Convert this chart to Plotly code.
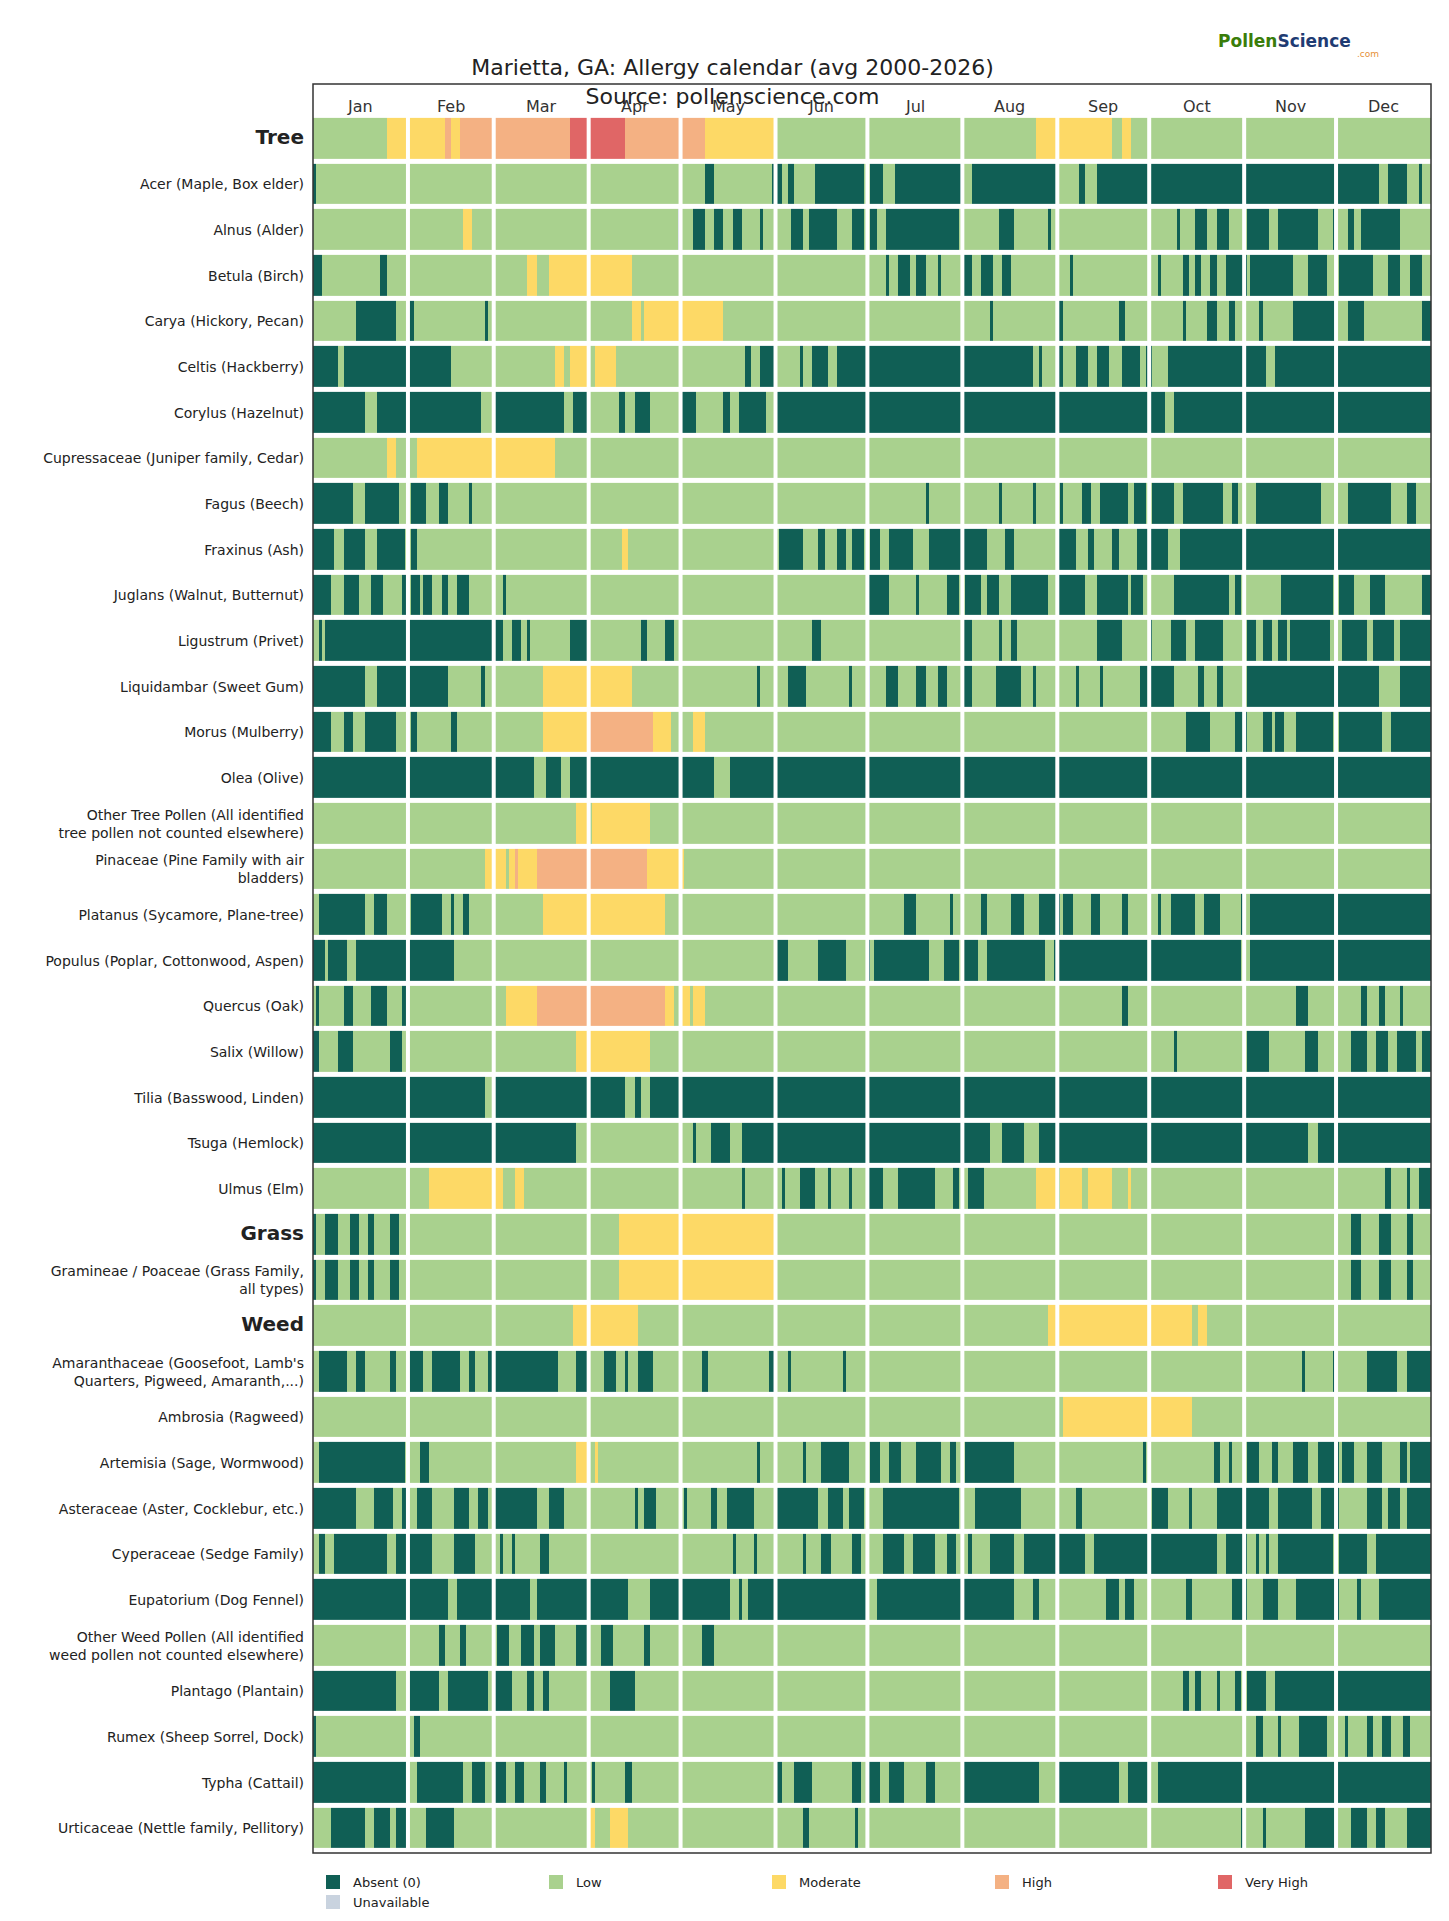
import plotly.graph_objects as go

# category codes: 0 absent, 1 low, 2 moderate, 3 high, 4 very high, 5 unavailable
levels = ['Absent (0)', 'Low', 'Moderate', 'High', 'Very High', 'Unavailable']
level_colors = ['#105f55', '#a9d18e', '#fdd966', '#f4b183', '#e06666', '#c9d3df']

months = ['Jan', 'Feb', 'Mar', 'Apr', 'May', 'Jun', 'Jul', 'Aug', 'Sep', 'Oct', 'Nov', 'Dec']
month_days = [31, 28, 31, 30, 31, 30, 31, 31, 30, 31, 30, 31]

row_labels = [
    '<b><span style="font-size:20px">Tree</span></b>',
    'Acer (Maple, Box elder)', 'Alnus (Alder)', 'Betula (Birch)', 'Carya (Hickory, Pecan)',
    'Celtis (Hackberry)', 'Corylus (Hazelnut)', 'Cupressaceae (Juniper family, Cedar)',
    'Fagus (Beech)', 'Fraxinus (Ash)', 'Juglans (Walnut, Butternut)', 'Ligustrum (Privet)',
    'Liquidambar (Sweet Gum)', 'Morus (Mulberry)', 'Olea (Olive)',
    'Other Tree Pollen (All identified<br>tree pollen not counted elsewhere)',
    'Pinaceae (Pine Family with air<br>bladders)', 'Platanus (Sycamore, Plane-tree)',
    'Populus (Poplar, Cottonwood, Aspen)', 'Quercus (Oak)', 'Salix (Willow)',
    'Tilia (Basswood, Linden)', 'Tsuga (Hemlock)', 'Ulmus (Elm)',
    '<b><span style="font-size:20px">Grass</span></b>',
    'Gramineae / Poaceae (Grass Family,<br>all types)',
    '<b><span style="font-size:20px">Weed</span></b>',
    "Amaranthaceae (Goosefoot, Lamb's<br>Quarters, Pigweed, Amaranth,...)",
    'Ambrosia (Ragweed)', 'Artemisia (Sage, Wormwood)', 'Asteraceae (Aster, Cocklebur, etc.)',
    'Cyperaceae (Sedge Family)', 'Eupatorium (Dog Fennel)',
    'Other Weed Pollen (All identified<br>weed pollen not counted elsewhere)',
    'Plantago (Plantain)', 'Rumex (Sheep Sorrel, Dock)', 'Typha (Cattail)',
    'Urticaceae (Nettle family, Pellitory)',
]

# run lengths per row: (level, last day of the run)
tree = [(1,24),(2,43),(3,45),(2,48),(3,84),(4,102),(3,128),(2,151),(1,236),(2,261),(1,264),(2,267),(1,365)]
acer = [(0,1),(1,128),(0,131),(1,150),(0,153),(1,155),(0,157),(1,164),(0,180),(1,182),(0,186),(1,190),(0,212),(1,215),(0,243),(1,250),(0,252),(1,256),(0,348),(1,351),(0,357),(1,361),(0,362),(1,365)]
alnus = [(1,49),(2,52),(1,119),(5,120),(1,124),(0,128),(1,131),(0,134),(1,137),(0,140),(1,146),(0,147),(1,156),(0,160),(1,162),(0,171),(1,176),(0,180),(1,182),(0,184),(1,187),(0,211),(1,224),(0,229),(1,240),(0,241),(1,282),(0,283),(1,288),(0,292),(1,295),(0,299),(1,305),(0,312),(1,315),(0,328),(1,333),(0,334),(1,338),(0,340),(1,342),(0,355),(1,365)]
betula = [(0,3),(1,22),(0,24),(1,70),(2,73),(1,77),(2,104),(1,187),(0,188),(1,191),(0,195),(1,197),(0,200),(1,204),(0,205),(1,212),(0,215),(1,218),(0,222),(1,225),(0,228),(1,247),(0,248),(1,276),(0,277),(1,284),(0,286),(1,288),(0,290),(1,293),(0,295),(1,298),(0,305),(1,306),(0,320),(1,325),(0,331),(1,335),(0,346),(1,351),(0,355),(1,358),(0,362),(1,365)]
carya = [(1,14),(0,27),(1,31),(0,33),(1,56),(0,57),(1,104),(2,107),(1,108),(2,134),(1,221),(0,222),(1,243),(0,245),(1,263),(0,265),(1,284),(0,285),(1,292),(0,295),(1,299),(0,301),(1,309),(0,310),(1,320),(0,334),(1,338),(0,343),(1,362),(0,365)]
celtis = [(0,8),(1,10),(0,45),(1,79),(2,82),(1,84),(2,90),(1,92),(2,99),(1,141),(0,143),(1,146),(0,151),(1,159),(0,160),(1,163),(0,168),(1,171),(0,235),(1,237),(0,238),(1,243),(0,245),(1,249),(0,253),(1,256),(0,260),(1,264),(0,270),(1,272),(0,274),(1,279),(0,311),(1,314),(0,365)]
corylus = [(0,17),(1,21),(0,55),(1,59),(0,82),(1,85),(0,90),(1,100),(0,102),(1,105),(0,110),(1,120),(0,125),(1,134),(0,136),(1,139),(0,148),(1,151),(0,278),(1,281),(0,365)]
cupress = [(1,24),(2,27),(1,34),(2,79),(1,365)]
fagus = [(0,13),(1,17),(0,28),(1,32),(0,37),(1,41),(0,44),(1,51),(0,52),(1,200),(0,201),(1,224),(0,225),(1,235),(0,236),(1,244),(0,245),(1,251),(0,254),(1,257),(0,266),(1,268),(0,272),(1,274),(0,281),(1,284),(0,297),(1,300),(0,302),(1,308),(0,329),(1,338),(0,352),(1,357),(0,360),(1,365)]
fraxinus = [(0,7),(1,10),(0,17),(1,21),(0,30),(1,32),(0,34),(1,101),(2,103),(1,152),(0,160),(1,165),(0,167),(1,171),(0,174),(1,176),(0,180),(1,182),(0,185),(1,188),(0,196),(1,201),(0,220),(1,226),(0,229),(1,243),(0,249),(1,253),(0,255),(1,261),(0,263),(1,269),(0,279),(1,283),(0,365)]
juglans = [(0,6),(1,10),(0,15),(1,19),(0,23),(1,29),(0,31),(1,32),(0,35),(1,36),(0,39),(1,42),(0,44),(1,47),(0,51),(1,62),(0,63),(1,181),(0,188),(1,197),(0,198),(1,207),(0,211),(1,213),(0,218),(1,220),(0,224),(1,228),(0,240),(1,243),(0,252),(1,256),(0,266),(1,267),(0,271),(1,281),(0,299),(1,301),(0,303),(1,316),(0,333),(1,335),(0,340),(1,345),(0,350),(1,362),(0,365)]
ligustrum = [(1,2),(0,3),(1,4),(0,62),(1,65),(0,68),(1,70),(0,71),(1,84),(0,90),(1,107),(0,109),(1,115),(0,118),(1,163),(0,166),(1,212),(0,215),(1,224),(0,225),(1,228),(0,230),(1,256),(0,264),(1,273),(0,274),(1,280),(0,285),(1,288),(0,297),(1,305),(0,308),(1,310),(0,313),(1,315),(0,318),(1,319),(0,332),(1,336),(0,344),(1,346),(0,353),(1,355),(0,365)]
liquidambar = [(0,17),(1,21),(0,44),(1,55),(0,56),(1,75),(2,104),(1,145),(0,146),(1,155),(0,161),(1,175),(0,176),(1,181),(5,182),(1,187),(0,191),(1,197),(0,200),(1,204),(0,207),(1,212),(0,215),(1,223),(0,231),(1,235),(0,236),(1,249),(0,250),(1,257),(0,258),(1,270),(0,281),(1,289),(0,291),(1,295),(0,297),(1,305),(0,348),(1,355),(0,365)]
morus = [(0,6),(1,10),(0,13),(1,17),(0,27),(1,32),(0,34),(1,45),(0,47),(1,75),(2,90),(3,111),(2,117),(1,124),(2,128),(1,285),(0,293),(1,301),(0,305),(1,310),(0,313),(1,314),(0,317),(1,321),(0,333),(1,335),(0,349),(1,352),(0,365)]
olea = [(0,72),(1,76),(0,81),(1,84),(0,131),(1,136),(0,365)]
other_tree = [(1,86),(2,90),(1,91),(2,110),(1,365)]
pinaceae = [(1,56),(2,63),(1,64),(2,66),(3,67),(2,73),(3,109),(2,121),(1,365)]
platanus = [(1,2),(0,17),(1,20),(0,24),(1,32),(0,42),(1,45),(0,46),(1,49),(0,51),(1,75),(2,115),(1,193),(0,197),(1,208),(0,209),(1,218),(0,220),(1,228),(0,232),(1,237),(0,244),(1,245),(0,248),(1,254),(0,257),(1,264),(0,266),(1,276),(0,277),(1,280),(0,288),(1,291),(0,296),(1,303),(0,304),(1,306),(0,365)]
populus = [(0,4),(1,5),(0,11),(1,14),(0,46),(1,151),(0,155),(1,165),(0,174),(1,181),(0,182),(1,183),(0,201),(1,206),(0,211),(1,212),(0,217),(1,220),(0,239),(1,242),(0,303),(1,306),(0,365)]
quercus = [(1,1),(0,2),(1,10),(0,13),(1,19),(0,24),(1,29),(0,31),(1,63),(2,73),(3,115),(2,118),(1,120),(2,123),(1,124),(2,128),(1,264),(0,266),(1,321),(0,325),(1,342),(0,344),(1,348),(0,350),(1,355),(0,356),(1,365)]
salix = [(0,2),(1,8),(0,13),(1,25),(0,29),(1,86),(2,110),(1,281),(0,282),(1,305),(0,312),(1,324),(0,328),(1,339),(0,344),(1,347),(0,351),(1,354),(0,360),(1,362),(0,365)]
tilia = [(0,56),(1,59),(0,102),(1,105),(0,107),(1,110),(0,365)]
tsuga = [(0,86),(1,124),(0,125),(1,130),(0,136),(1,140),(0,221),(1,225),(0,232),(1,237),(0,325),(1,328),(0,365)]
ulmus = [(1,38),(2,62),(1,66),(2,69),(1,140),(0,141),(1,153),(0,154),(1,159),(0,164),(1,168),(0,169),(1,175),(0,176),(1,181),(0,186),(1,191),(0,203),(1,209),(0,211),(1,214),(0,219),(1,236),(2,243),(1,244),(2,251),(1,253),(2,261),(1,266),(2,267),(1,350),(0,352),(1,357),(0,358),(1,361),(0,365)]
grass = [(0,1),(1,4),(0,8),(1,12),(0,15),(1,18),(0,20),(1,25),(0,28),(1,100),(2,151),(1,339),(0,342),(1,348),(0,352),(1,357),(0,359),(1,365)]
gramineae = [(0,1),(1,4),(0,8),(1,12),(0,15),(1,18),(0,20),(1,25),(0,28),(1,100),(2,151),(1,339),(0,342),(1,348),(0,352),(1,357),(0,359),(1,365)]
weed = [(1,85),(2,106),(1,240),(2,287),(1,289),(2,292),(1,365)]
amaranth = [(1,2),(0,11),(1,14),(0,17),(1,25),(0,27),(1,31),(0,36),(1,39),(0,48),(1,51),(0,53),(1,57),(0,80),(1,86),(0,90),(1,95),(0,99),(1,102),(0,103),(1,106),(0,111),(1,127),(0,129),(1,149),(0,151),(1,155),(0,156),(1,173),(0,174),(1,323),(0,324),(1,333),(0,334),(1,344),(0,354),(1,357),(0,365)]
ambrosia = [(1,245),(2,287),(1,365)]
artemisia = [(1,2),(0,30),(1,35),(0,38),(1,49),(0,49),(1,86),(2,90),(1,92),(2,93),(1,145),(0,146),(1,160),(0,161),(1,166),(0,175),(1,182),(0,185),(1,188),(0,192),(1,197),(0,205),(1,208),(0,210),(1,213),(0,229),(1,271),(0,272),(1,294),(0,296),(1,299),(0,300),(1,305),(0,309),(1,313),(0,315),(1,320),(0,325),(1,328),(0,335),(1,336),(0,340),(1,344),(0,349),(1,355),(0,357),(1,358),(0,365)]
asteraceae = [(0,14),(1,20),(0,26),(1,29),(0,31),(1,34),(0,39),(1,46),(0,51),(1,54),(0,57),(1,59),(0,73),(1,77),(0,82),(1,105),(0,106),(1,108),(0,112),(1,121),(0,122),(1,130),(0,132),(1,135),(0,144),(1,151),(0,165),(1,168),(0,173),(1,175),(0,180),(1,186),(0,211),(1,216),(0,231),(1,249),(0,251),(1,274),(0,279),(1,286),(0,287),(1,295),(0,312),(1,315),(0,326),(1,329),(0,335),(1,344),(0,349),(1,351),(0,355),(1,357),(0,365)]
cyperaceae = [(1,2),(0,4),(1,7),(0,24),(1,27),(0,39),(1,46),(0,53),(1,61),(0,62),(1,65),(0,66),(1,74),(0,77),(1,137),(0,138),(1,144),(0,145),(1,160),(0,161),(1,166),(0,169),(1,176),(0,179),(1,186),(0,193),(1,196),(0,203),(1,207),(0,210),(1,214),(0,215),(1,221),(0,229),(1,232),(0,252),(1,255),(0,295),(1,298),(0,305),(1,308),(0,309),(1,311),(0,312),(1,315),(0,333),(1,335),(0,344),(1,347),(0,365)]
eupatorium = [(0,44),(1,47),(0,71),(1,73),(0,103),(1,110),(0,136),(1,139),(0,140),(1,142),(0,181),(1,184),(0,229),(1,235),(0,237),(1,259),(0,263),(1,265),(0,268),(1,285),(0,287),(1,300),(0,305),(1,310),(0,315),(1,321),(0,335),(1,341),(0,342),(1,348),(0,365)]
other_weed = [(1,41),(0,43),(1,48),(0,50),(1,60),(0,64),(1,68),(0,72),(1,74),(0,79),(1,86),(0,90),(1,94),(0,98),(1,108),(0,110),(1,127),(0,131),(1,365)]
plantago = [(0,27),(1,31),(0,41),(1,44),(0,57),(1,59),(0,65),(1,70),(0,72),(1,75),(0,77),(1,97),(0,105),(1,284),(0,286),(1,288),(0,290),(1,295),(0,296),(1,301),(0,303),(1,305),(0,311),(1,314),(0,365)]
rumex = [(0,1),(1,33),(0,35),(1,308),(0,310),(1,315),(0,316),(1,322),(0,331),(1,337),(0,338),(1,344),(0,346),(1,349),(0,352),(1,356),(0,358),(1,365)]
typha = [(0,31),(1,34),(0,49),(1,52),(0,56),(1,59),(0,63),(1,66),(0,69),(1,74),(0,76),(1,82),(0,83),(1,91),(0,92),(1,102),(0,104),(1,151),(0,153),(1,157),(0,163),(1,176),(0,179),(1,181),(0,185),(1,188),(0,193),(1,200),(0,203),(1,212),(0,237),(1,243),(0,263),(1,266),(0,273),(1,276),(0,365)]
urticaceae = [(1,6),(0,17),(1,20),(0,25),(1,27),(0,31),(1,37),(0,46),(1,90),(2,92),(1,97),(2,103),(1,160),(0,162),(1,177),(0,178),(1,303),(0,304),(1,310),(0,311),(1,324),(0,334),(1,339),(0,344),(1,347),(0,350),(1,357),(0,365)]

rows = [tree, acer, alnus, betula, carya, celtis, corylus, cupress, fagus, fraxinus,
        juglans, ligustrum, liquidambar, morus, olea, other_tree, pinaceae, platanus,
        populus, quercus, salix, tilia, tsuga, ulmus, grass, gramineae, weed, amaranth,
        ambrosia, artemisia, asteraceae, cyperaceae, eupatorium, other_weed, plantago,
        rumex, typha, urticaceae]


def expand(runs):
    days = []
    for level, end in runs:
        while len(days) < min(end, 365):
            days.append(level)
    while len(days) < 365:
        days.append(1)
    return days


z = [expand(r) for r in rows]

scale = []
for i, c in enumerate(level_colors):
    scale.append([i / 6, c])
    scale.append([(i + 1) / 6, c])

fig = go.Figure()
fig.add_trace(go.Heatmap(
    z=z, x=list(range(365)), y=list(range(len(rows))),
    colorscale=scale, zmin=-0.5, zmax=5.5, showscale=False,
    ygap=5, hoverinfo='skip'
))

# legend entries
for name, color in zip(levels, level_colors):
    fig.add_trace(go.Scatter(
        x=[None], y=[None], mode='markers', name=name,
        marker=dict(symbol='square', size=14, color=color)
    ))

shapes = []
bounds = []
total = 0
for d in month_days:
    bounds.append(total)
    total += d
for b in bounds[1:]:
    shapes.append(dict(type='line', xref='x', yref='paper', x0=b - 0.5, x1=b - 0.5,
                       y0=0, y1=0.982, line=dict(color='white', width=4)))
shapes.append(dict(type='rect', xref='paper', yref='paper', x0=0, x1=1, y0=0, y1=1,
                   line=dict(color='#333333', width=1.5)))

annotations = []
for m, b, d in zip(months, bounds, month_days):
    annotations.append(dict(x=b + d / 2 - 0.5, y=0.994, xref='x', yref='paper',
                            text=m, showarrow=False, font=dict(size=16, color='#333333')))
annotations.append(dict(
    x=0.93, y=1.031, xref='paper', yref='paper', showarrow=False,
    text='<b><span style="color:#3a7d0a">Pollen</span><span style="color:#1f3b73">Science</span></b>',
    font=dict(size=17)))
annotations.append(dict(
    x=0.955, y=1.021, xref='paper', yref='paper', showarrow=False,
    text='<span style="color:#e69138">.com</span>', font=dict(size=9)))

fig.update_layout(
    width=1449, height=1921,
    title=dict(text='Marietta, GA: Allergy calendar (avg 2000-2026)<br>Source: pollenscience.com',
               x=0.5, xref='container', y=0.965, yref='container', yanchor='bottom',
               font=dict(size=22, color='#222222')),
    font=dict(family='DejaVu Sans', color='#222222'),
    plot_bgcolor='white', paper_bgcolor='white',
    margin=dict(l=305, r=26, t=76, b=70),
    xaxis=dict(range=[-0.5, 364.5], showticklabels=False, showgrid=False, zeroline=False),
    yaxis=dict(domain=[0.001, 0.982], range=[len(rows) - 0.5, -0.5], tickvals=list(range(len(rows))),
               ticktext=row_labels, tickfont=dict(size=14), showgrid=False, zeroline=False,
               ticks='', ticklabelstandoff=8),
    shapes=shapes, annotations=annotations,
    showlegend=True,
    legend=dict(orientation='h', x=0, y=-0.008, yanchor='top', xanchor='left',
                entrywidth=178, entrywidthmode='pixels', font=dict(size=13)),
)

fig.write_html("out.html")
